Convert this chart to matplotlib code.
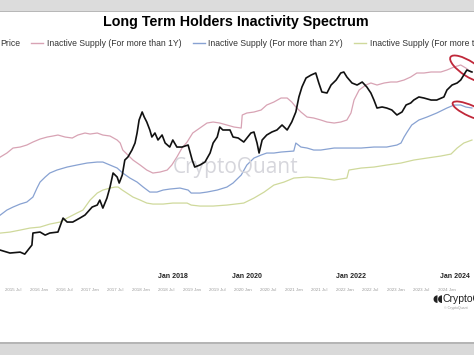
import matplotlib
matplotlib.use("Agg")
import matplotlib.pyplot as plt
from matplotlib.patches import Rectangle, Ellipse
from matplotlib.lines import Line2D
from matplotlib.transforms import IdentityTransform

plt.rcParams["font.family"] = ["Liberation Sans", "DejaVu Sans"]

# dates in decimal years
price_dates = [2015.25, 2015.44, 2015.64, 2015.73, 2015.87, 2015.89, 2016.03, 2016.13, 2016.22, 2016.38,
               2016.48, 2016.56, 2016.67, 2016.81, 2016.91, 2017.05, 2017.15, 2017.20, 2017.26, 2017.34,
               2017.40, 2017.46, 2017.54, 2017.58, 2017.64, 2017.69, 2017.75, 2017.83, 2017.89, 2017.93,
               2017.97, 2018.03, 2018.07, 2018.12, 2018.18, 2018.22, 2018.28, 2018.34, 2018.42, 2018.48,
               2018.57, 2018.63, 2018.71, 2018.81, 2018.93, 2019.01, 2019.06, 2019.16, 2019.26, 2019.36,
               2019.42, 2019.50, 2019.55, 2019.61, 2019.75, 2019.81, 2019.91, 2020.02, 2020.16, 2020.22,
               2020.28, 2020.32, 2020.38, 2020.47, 2020.57, 2020.67, 2020.77, 2020.87, 2020.96, 2021.04,
               2021.10, 2021.16, 2021.24, 2021.34, 2021.43, 2021.49, 2021.55, 2021.65, 2021.73, 2021.83,
               2021.92, 2021.98, 2022.04, 2022.14, 2022.24, 2022.34, 2022.43, 2022.51, 2022.57, 2022.63,
               2022.73, 2022.82, 2022.92, 2023.02, 2023.12, 2023.20, 2023.29, 2023.35, 2023.45, 2023.55,
               2023.69, 2023.80, 2023.94, 2024.00, 2024.10, 2024.20, 2024.27, 2024.33, 2024.39, 2024.49]
price = [267, 244, 251, 236, 312, 452, 466, 424, 452, 466,
         717, 634, 634, 717, 787, 1007, 1071, 1248, 975, 1328,
         1865, 2872, 2537, 2109, 2698, 4285, 4699, 5834, 7244, 9859,
         14722, 18846, 16148, 13840, 10818, 8714, 9859, 7945, 9268, 7244,
         6396, 7945, 6396, 6396, 6808, 4285, 3452, 3673, 4027, 5321,
         7244, 8714, 11858, 10818, 10818, 8714, 8453, 7467, 9859, 10162,
         7244, 5321, 7945, 9268, 10162, 10818, 12618, 10818, 13840, 18846,
         29923, 40738, 53703, 58884, 62661, 46025, 34914, 33810, 43252, 50488,
         62661, 64565, 55335, 46025, 43252, 47424, 40738, 33810, 27227, 21281,
         21979, 21281, 20045, 17179, 18846, 23388, 24832, 27227, 29923, 28970,
         27227, 27227, 29923, 37068, 43252, 46025, 50488, 58884, 68707, 64565]

# inactive supply, million BTC
s1y_dates = [2015.25, 2015.38, 2015.50, 2015.64, 2015.77, 2015.89, 2016.03, 2016.17, 2016.28, 2016.38,
             2016.52, 2016.66, 2016.77, 2016.91, 2017.01, 2017.15, 2017.26, 2017.40, 2017.54, 2017.60,
             2017.65, 2017.75, 2017.85, 2017.99, 2018.12, 2018.24, 2018.38, 2018.52, 2018.61, 2018.71,
             2018.81, 2018.91, 2019.02, 2019.16, 2019.30, 2019.42, 2019.55, 2019.69, 2019.83, 2019.97,
             2019.99, 2020.08, 2020.22, 2020.36, 2020.47, 2020.61, 2020.75, 2020.87, 2020.96, 2021.04,
             2021.14, 2021.26, 2021.39, 2021.53, 2021.65, 2021.79, 2021.92, 2022.04, 2022.12, 2022.18,
             2022.28, 2022.41, 2022.51, 2022.63, 2022.77, 2022.90, 2023.02, 2023.16, 2023.29, 2023.41,
             2023.55, 2023.69, 2023.88, 2024.00, 2024.14, 2024.27, 2024.37, 2024.47]
s1y = [12.3, 12.7, 13.2, 13.3, 13.5, 13.8, 14.1, 14.3, 14.4, 14.5,
       14.3, 14.2, 14.5, 14.7, 14.6, 14.7, 14.5, 14.4, 14.0, 13.7,
       13.0, 12.5, 12.0, 11.5, 11.0, 10.7, 10.8, 11.0, 11.5, 12.3,
       13.2, 13.8, 14.7, 15.2, 15.7, 15.8, 15.7, 15.5, 15.3, 15.2,
       16.5, 16.7, 16.8, 17.0, 17.5, 17.8, 18.2, 18.2, 17.8, 17.3,
       16.8, 16.3, 16.2, 16.0, 15.8, 15.7, 15.8, 16.0, 16.7, 18.0,
       19.0, 19.5, 19.7, 19.5, 19.7, 19.8, 19.8, 20.0, 20.3, 20.7,
       20.7, 20.8, 20.8, 21.0, 21.3, 21.5, 21.2, 20.8]

s2y_dates = [2015.25, 2015.38, 2015.50, 2015.64, 2015.77, 2015.89, 2015.97, 2016.03, 2016.13, 2016.22,
             2016.36, 2016.56, 2016.75, 2016.95, 2017.15, 2017.26, 2017.40, 2017.54, 2017.65, 2017.79,
             2017.93, 2018.05, 2018.18, 2018.32, 2018.44, 2018.57, 2018.77, 2018.93, 2018.99, 2019.16,
             2019.30, 2019.50, 2019.69, 2019.81, 2019.97, 2020.08, 2020.22, 2020.36, 2020.47, 2020.61,
             2020.75, 2021.00, 2021.04, 2021.14, 2021.26, 2021.39, 2021.53, 2021.79, 2022.04, 2022.32,
             2022.57, 2022.82, 2023.02, 2023.10, 2023.16, 2023.22, 2023.31, 2023.45, 2023.61, 2023.80,
             2024.00, 2024.14, 2024.27, 2024.37, 2024.49]
s2y = [6.5, 7.0, 7.3, 7.6, 7.8, 8.3, 9.2, 9.8, 10.3, 10.7,
       11.0, 11.3, 11.5, 11.7, 11.8, 11.8, 11.5, 11.2, 10.7, 10.2,
       9.8, 9.3, 8.8, 8.8, 9.0, 9.1, 9.2, 9.0, 8.7, 8.7,
       8.8, 9.0, 9.3, 9.7, 10.5, 11.5, 12.2, 12.5, 12.7, 12.7,
       12.8, 12.9, 13.7, 13.3, 13.2, 13.0, 13.0, 13.2, 13.2, 13.2,
       13.3, 13.3, 13.5, 13.7, 14.3, 14.8, 15.5, 16.0, 16.3, 16.7,
       17.2, 17.5, 17.5, 17.3, 17.2]

s3y_dates = [2015.25, 2015.44, 2015.64, 2015.83, 2016.03, 2016.22, 2016.42, 2016.56, 2016.75, 2016.87,
             2017.01, 2017.15, 2017.26, 2017.40, 2017.50, 2017.56, 2017.64, 2017.73, 2017.85, 2017.99,
             2018.12, 2018.24, 2018.44, 2018.63, 2018.91, 2018.99, 2019.16, 2019.42, 2019.69, 2020.02,
             2020.22, 2020.42, 2020.61, 2020.81, 2021.00, 2021.26, 2021.53, 2021.79, 2022.04, 2022.08,
             2022.32, 2022.57, 2022.82, 2023.10, 2023.35, 2023.61, 2023.88, 2024.08, 2024.20, 2024.33,
             2024.49]
s3y = [4.7, 4.8, 5.0, 5.2, 5.3, 5.6, 5.8, 6.2, 6.7, 7.0,
       8.0, 8.7, 9.0, 9.2, 9.3, 9.3, 9.0, 8.7, 8.3, 8.0,
       7.7, 7.6, 7.6, 7.7, 7.7, 7.5, 7.4, 7.4, 7.5, 7.7,
       8.2, 8.8, 9.5, 9.8, 10.2, 10.3, 10.2, 10.0, 10.2, 11.0,
       11.2, 11.3, 11.5, 11.7, 12.0, 12.2, 12.4, 12.6, 13.2, 13.7,
       14.0]

tick_pos = [2015.5 + 0.5 * i for i in range(18)]
tick_labels = []
for t in tick_pos:
    tick_labels.append(f"{int(t)} {'Jul' if t % 1 else 'Jan'}")
big_labels = ["Jan 2018", "Jan 2020", "Jan 2022", "Jan 2024"]
big_label_x = [0.365, 0.521, 0.741, 0.960]

names = ["Price", "Inactive Supply (For more than 1Y)", "Inactive Supply (For more than 2Y)",
         "Inactive Supply (For more than 3Y)"]
colors = ["#111111", "#d8a3b4", "#88a2d2", "#cfd99b"]

fig = plt.figure(figsize=(4.74, 3.55), dpi=100)
ax = fig.add_axes([0, 0.211, 1, 0.62])
ax2 = ax.twinx()

ax2.plot(s1y_dates, s1y, color=colors[1], lw=0.9)
ax2.plot(s2y_dates, s2y, color=colors[2], lw=0.9)
ax2.plot(s3y_dates, s3y, color=colors[3], lw=0.9)
ax2.set_ylim(0, 22)
ax.plot(price_dates, price, color=colors[0], lw=1.2, zorder=5)
ax.set_zorder(ax2.get_zorder() + 1)
ax.patch.set_visible(False)
ax.set_yscale("log")
ax.set_ylim(106, 93500)
ax.set_xlim(2015.245, 2024.53)

for a in (ax, ax2):
    for s in a.spines.values():
        s.set_visible(False)
    a.set_yticks([])
    a.minorticks_off()
ax.set_xticks(tick_pos, tick_labels, fontsize=3.2, color="#9a9a9a")
ax.tick_params(axis="x", length=0, pad=6)
ax.axhline(106, color="#eeeeee", lw=0.6)

# watermark
ax.text(0.497, 0.51, "CryptoQuant", transform=ax.transAxes, fontsize=15, color="#d6d6dc",
        ha="center", va="center", family="Open Sans", zorder=0)

# red hand-drawn loops around the line ends (pixel coordinates)
fig.add_artist(Ellipse((469, 286), 44, 15, angle=-33, fill=False, ec="#c0283a", lw=1.3,
                       transform=IdentityTransform()))
fig.add_artist(Ellipse((471, 244), 40, 11, angle=-24, fill=False, ec="#c0283a", lw=1.3,
                       transform=IdentityTransform()))

fig.text(0.497, 0.938, "Long Term Holders Inactivity Spectrum", fontsize=10.3, fontweight="bold",
         ha="center", va="center")

handles = [Line2D([], [], color=c, lw=1) for c in colors]
fig.legend(handles, names, loc="center left", bbox_to_anchor=(-0.049, 0.877), ncol=4, frameon=False,
           fontsize=6.2, handlelength=1.4, handletextpad=0.4, columnspacing=1.3, labelcolor="#333333")

for lab, x in zip(big_labels, big_label_x):
    fig.text(x, 0.222, lab, fontsize=5, fontweight="bold", ha="center", va="center", color="#222222")

fig.text(0.912, 0.158, "◖◖", fontsize=7.5, ha="left", va="center", color="#222222", family="DejaVu Sans")
fig.text(0.933, 0.158, "CryptoQuant", fontsize=7.5, ha="left", va="center", color="#222222")
fig.text(0.937, 0.132, "© CryptoQuant", fontsize=2.5, ha="left", va="center", color="#999999")

# screenshot frame
fig.add_artist(Rectangle((0, 0.969), 1, 0.031, transform=fig.transFigure, color="#dcdcdc", lw=0))
fig.add_artist(Rectangle((0, 0.966), 1, 0.004, transform=fig.transFigure, color="#b8b8b8", lw=0))
fig.add_artist(Rectangle((0, 0), 1, 0.034, transform=fig.transFigure, color="#d9d9d9", lw=0))
fig.add_artist(Rectangle((0, 0.032), 1, 0.004, transform=fig.transFigure, color="#b5b5b5", lw=0))

fig.savefig("out.png", dpi=100)
